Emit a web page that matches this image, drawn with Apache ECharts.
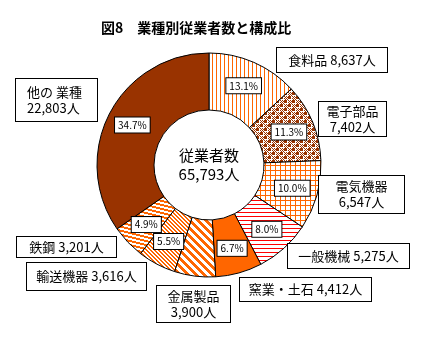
<!DOCTYPE html>
<html>
<head>
<meta charset="utf-8">
<script src="https://cdn.jsdelivr.net/npm/echarts@6/dist/echarts.min.js"></script>
<style>
  html, body { margin: 0; padding: 0; background: #fff; }
  #chart { width: 430px; height: 340px; }
</style>
</head>
<body>
<div id="chart"></div>
<script>
// 業種別従業者数（人）
const categories = ['食料品', '電子部品', '電気機器', '一般機械', '窯業・土石', '金属製品', '輸送機器', '鉄鋼', '他の 業種'];
const employees = [8637, 7402, 6547, 5275, 4412, 3900, 3616, 3201, 22803];
const titleText = '図8　業種別従業者数と構成比';
const centerCaption = '従業者数';

// label boxes: [left, top, width, height, twoLines, align]
const boxes = [
  [276, 48, 112, 26, false, 'center'],
  [318, 102, 69, 36, true, 'center'],
  [318, 176, 87, 39, true, 'center'],
  [287, 244, 123, 26, false, 'center'],
  [239, 278, 133, 25, false, 'center'],
  [156, 286, 75, 38, true, 'center'],
  [26, 263, 121, 29, false, 'center'],
  [16, 237, 101, 22, false, 'center'],
  [16, 79, 83, 44, true, 'left']
];

const ORANGE = '#ff6600', BROWN = '#993300', RED = '#ff0000';

function pattern(w, h, draw) {
  const c = document.createElement('canvas');
  c.width = w; c.height = h;
  const g = c.getContext('2d');
  g.fillStyle = '#fff';
  g.fillRect(0, 0, w, h);
  draw(g);
  return { image: c, repeat: 'repeat' };
}

const fills = [
  // vertical lines
  pattern(4, 4, g => { g.fillStyle = ORANGE; g.fillRect(0, 0, 1, 4); }),
  // checker
  pattern(8, 8, g => {
    g.fillStyle = BROWN;
    g.fillRect(0, 0, 3, 3); g.fillRect(4, 4, 3, 3);
    for (let y = 0; y < 8; y++) for (let x = 0; x < 8; x++) {
      const inA = x < 4 && y < 4, inB = x >= 4 && y >= 4;
      if (!inA && !inB && (x + y) % 2 === 0) g.fillRect(x, y, 1, 1);
    }
  }),
  // grid
  pattern(5, 5, g => { g.fillStyle = ORANGE; g.fillRect(0, 0, 5, 1); g.fillRect(0, 0, 1, 5); }),
  // horizontal red lines
  pattern(4, 4, g => { g.fillStyle = RED; g.fillRect(0, 0, 4, 1); }),
  // solid
  ORANGE,
  // wide diagonal stripes
  pattern(8, 8, g => {
    g.fillStyle = ORANGE;
    for (let y = 0; y < 8; y++) for (let k = 0; k < 4; k++) g.fillRect((y + k) % 8, y, 1, 1);
  }),
  // narrow diagonal stripes
  pattern(4, 4, g => {
    g.fillStyle = ORANGE;
    for (let y = 0; y < 4; y++) for (let k = 0; k < 2; k++) g.fillRect((y + k) % 4, y, 1, 1);
  }),
  // shallow lines
  pattern(16, 4, g => {
    g.fillStyle = ORANGE;
    for (let x = 0; x < 16; x++) {
      const y0 = Math.floor(x / 4);
      g.fillRect(x, y0, 1, 1);
      g.fillRect(x, (y0 + 1) % 4, 1, 1);
    }
  }),
  BROWN
];

const total = employees.reduce((a, b) => a + b, 0);
const fmt = n => n.toLocaleString('en-US');
const FONT = '"Noto Sans CJK JP", "Noto Sans", sans-serif';

const ringData = categories.map((name, i) => ({
  name, value: employees[i], itemStyle: { color: fills[i] }
}));

const LH = 16;
const labelData = categories.map((name, i) => {
  const b = boxes[i];
  const n = b[4] ? 2 : 1;
  const pv = (b[3] - n * LH) / 2;
  const padL = b[5] === 'left' ? 11 : 0;
  return {
    name, value: employees[i],
    label: {
      width: b[2] - padL - 2,
      align: b[5],
      padding: [pv - 1, 0, pv - 1, padL]
    }
  };
});

const chart = echarts.init(document.getElementById('chart'), null, { renderer: 'canvas' });
chart.setOption({
  animation: false,
  title: {
    text: titleText,
    left: 96, top: 16,
    textStyle: { fontFamily: FONT, fontSize: 14, fontWeight: 'bold', color: '#000' }
  },
  graphic: [{
    type: 'text', silent: true,
    x: 209, y: 146,
    style: {
      text: centerCaption + '\n' + fmt(total) + '人',
      align: 'center', verticalAlign: 'top',
      font: '15px ' + FONT, lineHeight: 19, fill: '#000'
    }
  }],
  series: [{
    type: 'pie',
    center: [209, 165],
    radius: [55, 112],
    startAngle: 90,
    clockwise: true,
    silent: true,
    avoidLabelOverlap: false,
    itemStyle: { borderColor: '#000', borderWidth: 1 },
    label: {
      position: 'inside',
      formatter: p => (p.value / total * 100).toFixed(1) + '%',
      fontFamily: FONT, fontSize: 10, color: '#000',
      backgroundColor: '#fff', borderColor: '#000', borderWidth: 1,
      padding: [3, 3, 2, 3]
    },
    labelLine: { show: false },
    emphasis: { disabled: true },
    data: ringData
  }, {
    type: 'pie',
    center: [209, 165],
    radius: [55, 112],
    startAngle: 90,
    clockwise: true,
    silent: true,
    avoidLabelOverlap: false,
    itemStyle: { color: 'transparent', borderWidth: 0 },
    label: {
      position: 'outside',
      formatter: p => boxes[p.dataIndex][4] ? p.name + '\n' + fmt(p.value) + '人' : p.name + ' ' + fmt(p.value) + '人',
      fontFamily: FONT, fontSize: 13, lineHeight: LH, color: '#000',
      backgroundColor: '#fff', borderColor: '#000', borderWidth: 1
    },
    labelLine: { show: false },
    labelLayout: p => {
      const b = boxes[p.dataIndex];
      return {
        x: b[5] === 'left' ? b[0] : b[0] + b[2] / 2,
        y: b[1],
        align: b[5],
        verticalAlign: 'top',
        hideOverlap: false,
        moveOverlap: null
      };
    },
    emphasis: { disabled: true },
    data: labelData
  }]
});
</script>
</body>
</html>
